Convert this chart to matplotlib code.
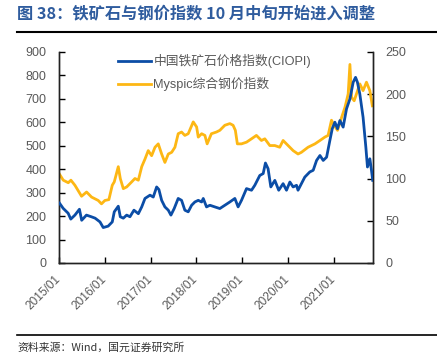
import matplotlib
matplotlib.use("Agg")
import matplotlib.pyplot as plt
import matplotlib.transforms as mtransforms
import pandas as pd

# ---- data ----
ciopi_dates = ["2015-01-05", "2015-02-03", "2015-03-15", "2015-04-05", "2015-05-08", "2015-06-13",
               "2015-07-01", "2015-08-08", "2015-09-16", "2015-10-16", "2015-11-24", "2015-12-20",
               "2016-01-28", "2016-03-01", "2016-03-17", "2016-04-18", "2016-05-04", "2016-05-28",
               "2016-06-24", "2016-07-20", "2016-08-21", "2016-09-25", "2016-10-22", "2016-11-17",
               "2016-12-27", "2017-01-22", "2017-02-18", "2017-03-08", "2017-03-30", "2017-04-25",
               "2017-05-22", "2017-06-12", "2017-07-08", "2017-08-09", "2017-09-05", "2017-10-01",
               "2017-10-28", "2017-11-24", "2017-12-20", "2018-01-16", "2018-02-12", "2018-02-25",
               "2018-03-23", "2018-04-19", "2018-05-28", "2018-07-07", "2018-08-16", "2018-09-25",
               "2018-11-04", "2018-11-30", "2018-12-27", "2019-02-05", "2019-03-17", "2019-04-12",
               "2019-05-22", "2019-06-18", "2019-07-06", "2019-07-27", "2019-08-18", "2019-09-19",
               "2019-10-20", "2019-11-24", "2019-12-21", "2020-01-17", "2020-02-12", "2020-03-10",
               "2020-03-22", "2020-04-18", "2020-05-15", "2020-06-24", "2020-07-21", "2020-08-17",
               "2020-09-13", "2020-10-09", "2020-11-05", "2020-12-01", "2020-12-20", "2021-01-10",
               "2021-01-31", "2021-02-19", "2021-03-17", "2021-04-13", "2021-05-10", "2021-06-05",
               "2021-06-24", "2021-07-09", "2021-07-28", "2021-08-23", "2021-09-14", "2021-09-27",
               "2021-10-16", "2021-10-29", "2021-11-08"]
ciopi_values = [255, 233, 212, 187, 204, 229,
                182, 204, 197, 191, 175, 151,
                157, 175, 218, 242, 197, 191,
                204, 197, 225, 210, 239, 275,
                289, 281, 324, 313, 267, 239,
                225, 204, 232, 275, 267, 225,
                218, 246, 260, 267, 260, 275,
                239, 246, 239, 232, 246, 260,
                275, 239, 267, 317, 310, 331,
                373, 381, 426, 402, 324, 352,
                310, 338, 310, 345, 324, 331,
                310, 338, 366, 388, 395, 437,
                458, 437, 451, 522, 572, 600,
                572, 607, 579, 657, 699, 770,
                791, 770, 720, 621, 494, 409,
                444, 395, 352]

myspic_dates = ["2015-01-01", "2015-02-04", "2015-03-16", "2015-04-06", "2015-05-08", "2015-06-30",
                "2015-08-09", "2015-09-18", "2015-11-10", "2015-12-06", "2016-01-02", "2016-02-03",
                "2016-03-01", "2016-03-17", "2016-04-18", "2016-05-04", "2016-05-28", "2016-06-24",
                "2016-08-03", "2016-08-29", "2016-09-25", "2016-10-22", "2016-11-17", "2016-12-13",
                "2017-01-09", "2017-02-05", "2017-03-03", "2017-03-30", "2017-04-25", "2017-05-22",
                "2017-06-18", "2017-07-14", "2017-08-09", "2017-09-05", "2017-10-01", "2017-10-28",
                "2017-12-07", "2018-01-03", "2018-01-16", "2018-02-12", "2018-03-10", "2018-03-28",
                "2018-05-01", "2018-06-10", "2018-07-07", "2018-08-16", "2018-09-25", "2018-10-21",
                "2018-11-08", "2018-11-24", "2018-12-27", "2019-02-05", "2019-03-17", "2019-04-25",
                "2019-06-04", "2019-07-01", "2019-08-10", "2019-09-19", "2019-10-28", "2019-11-24",
                "2020-01-03", "2020-02-12", "2020-03-22", "2020-04-18", "2020-06-10", "2020-08-04",
                "2020-09-13", "2020-10-22", "2020-11-17", "2020-12-14", "2021-01-04", "2021-01-31",
                "2021-03-04", "2021-03-31", "2021-04-26", "2021-05-10", "2021-05-23", "2021-06-13",
                "2021-07-01", "2021-07-28", "2021-08-23", "2021-09-19", "2021-10-16", "2021-11-05"]
myspic_values = [106, 98, 95, 98, 92, 79,
                 84, 78, 74, 70, 74, 75,
                 92, 96, 114, 100, 88, 90,
                 96, 100, 98, 114, 123, 133,
                 127, 137, 141, 129, 119, 129,
                 131, 137, 153, 155, 151, 153,
                 167, 161, 149, 153, 151, 141,
                 153, 155, 157, 163, 165, 163,
                 157, 141, 141, 143, 147, 151,
                 145, 147, 139, 139, 137, 145,
                 139, 133, 129, 131, 137, 141,
                 145, 149, 151, 169, 163, 157,
                 172, 184, 200, 235, 196, 192,
                 200, 212, 204, 214, 204, 186]

left_ticks = [0, 100, 200, 300, 400, 500, 600, 700, 800, 900]
right_ticks = [0, 50, 100, 150, 200, 250]
x_tick_labels = ["2015/01", "2016/01", "2017/01", "2018/01", "2019/01", "2020/01", "2021/01"]

title_text = "图 38：铁矿石与钢价指数 10 月中旬开始进入调整"
source_text = "资料来源：Wind，国元证券研究所"
label_ciopi = "中国铁矿石价格指数(CIOPI)"
label_myspic = "Myspic综合钢价指数"

# ---- style ----
plt.rcParams['font.family'] = ['Liberation Sans', 'Noto Sans CJK SC', 'DejaVu Sans']
BLUE = "#0B4DA6"
YELLOW = "#FDB714"
GRAY = "#595959"

fig = plt.figure(figsize=(4.37, 3.62), dpi=100)
ax = fig.add_axes([0.135, 0.2735, 0.7185, 0.5835])
ax2 = ax.twinx()

cd = pd.to_datetime(ciopi_dates)
md = pd.to_datetime(myspic_dates)
l1, = ax.plot(cd, ciopi_values, color=BLUE, lw=2.0, label=label_ciopi, zorder=3)
l2, = ax2.plot(md, myspic_values, color=YELLOW, lw=2.0, label=label_myspic, zorder=2)
ax.set_zorder(ax2.get_zorder() + 1)
ax.patch.set_visible(False)

ax.set_ylim(0, 900)
ax2.set_ylim(0, 250)
ax.set_yticks(left_ticks)
ax2.set_yticks(right_ticks)
ax.set_xlim(pd.Timestamp("2015-01-01"), pd.Timestamp("2021-11-10"))
xt = pd.to_datetime([s.replace("/", "-") + "-01" for s in x_tick_labels])
ax.set_xticks(xt)
ax.set_xticklabels(x_tick_labels, rotation=45, ha='right', va='top', rotation_mode='default')

for a in (ax, ax2):
    a.spines['top'].set_visible(False)
    for s in a.spines.values():
        s.set_linewidth(1.0)
        s.set_color("#222222")
ax.tick_params(axis='y', direction='in', length=4, width=1, pad=9, labelsize=9, labelcolor=GRAY)
ax.tick_params(axis='x', direction='in', length=4, width=1, pad=7.5, labelsize=8.6, labelcolor=GRAY)
ax2.tick_params(axis='y', direction='in', length=4, width=1, pad=9, labelsize=9, labelcolor=GRAY)
shift = mtransforms.ScaledTranslation(4 / 100, 0, fig.dpi_scale_trans)
for lab in ax.get_xticklabels():
    lab.set_transform(lab.get_transform() + shift)

leg = ax.legend(handles=[l1, l2], loc='upper left', bbox_to_anchor=(0.165, 1.025),
                frameon=False, fontsize=9.2, labelspacing=0.68, handlelength=2.55,
                handletextpad=0.18, borderaxespad=0.2)
for t in leg.get_texts():
    t.set_color(GRAY)

fig.text(0.039, 0.962, title_text, fontsize=11.7, color="#2F5C9E", fontweight='bold',
         family=['Noto Sans CJK SC', 'DejaVu Sans'], ha='left', va='center')
fig.add_artist(plt.Line2D([0.039, 1.0], [0.912, 0.912], color='black', lw=1.5))
fig.add_artist(plt.Line2D([0.039, 1.0], [0.075, 0.075], color='black', lw=1.2))
fig.text(0.039, 0.040, source_text, fontsize=7.8, color="#333333",
         family=['Noto Sans CJK SC', 'DejaVu Sans'], ha='left', va='center')

fig.savefig("out.png", dpi=100)
